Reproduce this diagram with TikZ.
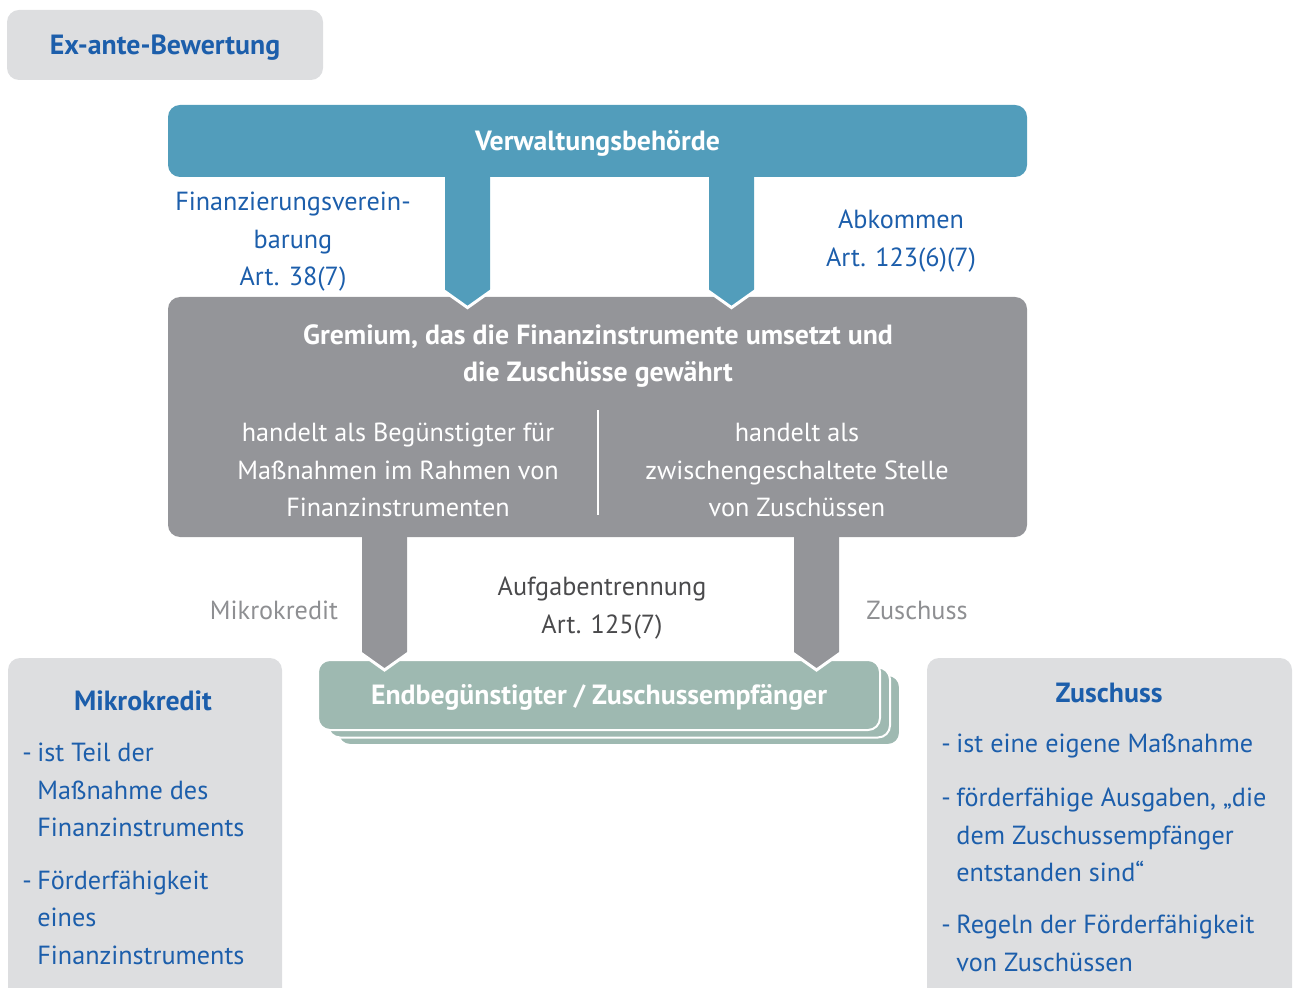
\documentclass[tikz,border=0pt]{standalone}
\usepackage{fontspec}
\setmainfont{PT Sans}
\usetikzlibrary{positioning,calc}

\definecolor{headblue}{HTML}{529DBB}
\definecolor{midgrey}{HTML}{949599}
\definecolor{lightgrey}{HTML}{DDDEE0}
\definecolor{sage}{HTML}{9EB9B1}
\definecolor{textblue}{HTML}{1C5EAB}
\definecolor{labelgrey}{HTML}{8E8F92}
\definecolor{darktext}{HTML}{4A4A4C}

\newcommand{\dashitem}{\makebox[7.5pt][l]{-}}
\newcommand{\hang}{\hspace*{7.5pt}}

\begin{document}
\begin{tikzpicture}[x=0.5pt,y=-0.5pt,
  panel/.style={rounded corners=6pt, inner sep=0pt},
  txt/.style={font=\fontsize{13.1}{18.75}\selectfont, align=center, inner sep=0pt},
  boldtxt/.style={txt, font=\fontsize{13.9}{18.75}\selectfont\bfseries},
  boxlabel/.style={boldtxt, text height=10pt, text depth=0.5pt},
  itemtxt/.style={txt, align=left, anchor=west, text=textblue},
  sagebox/.style={panel, fill=sage, draw=white, line width=1pt,
    minimum width=281pt, minimum height=35pt}]
\useasboundingbox (0,0) rectangle (1293,988);

% top left tag
\node[panel, fill=lightgrey, minimum width=158pt, minimum height=35pt,
  boxlabel, text=textblue] (exante) at (165,45) {Ex-ante-Bewertung};

% main boxes
\node[panel, fill=headblue, minimum width=429.5pt, minimum height=36pt,
  boxlabel, text=white] (vb) at (597.5,141) {Verwaltungsbehörde};
\node[panel, fill=midgrey, minimum width=429.5pt, minimum height=120pt] (gr) at (597.5,417) {};
\node[boldtxt, text=white] (grtitle) at (598,356) {Gremium, das die Finanzinstrumente umsetzt und\\die Zuschüsse gewährt};
\node[txt, text=white] (grleft) at (398,470) {handelt als Begünstigter für\\Maßnahmen im Rahmen von\\Finanzinstrumenten};
\node[txt, text=white] (grright) at (797,470) {handelt als\\zwischengeschaltete Stelle\\von Zuschüssen};
\draw[white, line width=1pt] (598,410) -- (598,515);

% stacked receiver boxes
\node[sagebox] (end2) at (619,710) {};
\node[sagebox] (end1) at (609,702.5) {};
\node[sagebox, boxlabel, text=white] (end) at (599,695) {Endbegünstigter / Zuschussempfänger};

% block arrows
\foreach \xa/\src/\dst/\col in {467.5/vb/gr/headblue, 731.5/vb/gr/headblue,
                                384.5/gr/end/midgrey, 816.5/gr/end/midgrey} {
  \coordinate (top) at (\src.south -| \xa,0);
  \coordinate (tip) at ($(\dst.north -| \xa,0)+(0,11)$);
  \fill[\col] ($(top)+(-22.5,-6)$) -- ($(tip)+(-22.5,-16)$) -- (tip)
    -- ($(tip)+(22.5,-16)$) -- ($(top)+(22.5,-6)$) -- cycle;
  \draw[white, line width=1.5pt] ($(tip)+(-22.5,-13)$) -- ($(tip)+(-22.5,-16)$)
    -- (tip) -- ($(tip)+(22.5,-16)$) -- ($(tip)+(22.5,-13)$);
}

% labels
\node[txt, text=textblue] (fv) at (293,242) {Finanzierungsverein-\\barung\\Art. 38(7)};
\node[txt, text=textblue] (abk) at (901,241) {Abkommen\\Art. 123(6)(7)};
\node[txt, text=labelgrey] (mk) at (274,610) {Mikrokredit};
\node[txt, text=labelgrey] (zs) at (917,610) {Zuschuss};
\node[txt, text=darktext] (sep) at (602,608) {Aufgabentrennung\\Art. 125(7)};

% side panels
\node[panel, fill=lightgrey, minimum width=137pt, minimum height=176pt] (mkbox) at (145,834) {};
\node[boldtxt, text=textblue] (mktitle) at (143,701) {Mikrokredit};
\node[itemtxt] (mk1) at (22,790) {\dashitem ist Teil der\\\hang Maßnahme des\\\hang Finanzinstruments};
\node[itemtxt] (mk2) at (22,917.5) {\dashitem Förderfähigkeit\\\hang eines\\\hang Finanzinstruments};

\node[panel, fill=lightgrey, minimum width=182.5pt, minimum height=176pt] (zsbox) at (1109.5,834) {};
\node[boldtxt, text=textblue] (zstitle) at (1109,693) {Zuschuss};
\node[itemtxt] (zs1) at (941,746) {\dashitem ist eine eigene Maßnahme};
\node[itemtxt] (zs2) at (941,835) {\dashitem förderfähige Ausgaben, „die\\\hang dem Zuschussempfänger\\\hang entstanden sind“};
\node[itemtxt] (zs3) at (941,943.5) {\dashitem Regeln der Förderfähigkeit\\\hang von Zuschüssen};
\end{tikzpicture}
\end{document}
